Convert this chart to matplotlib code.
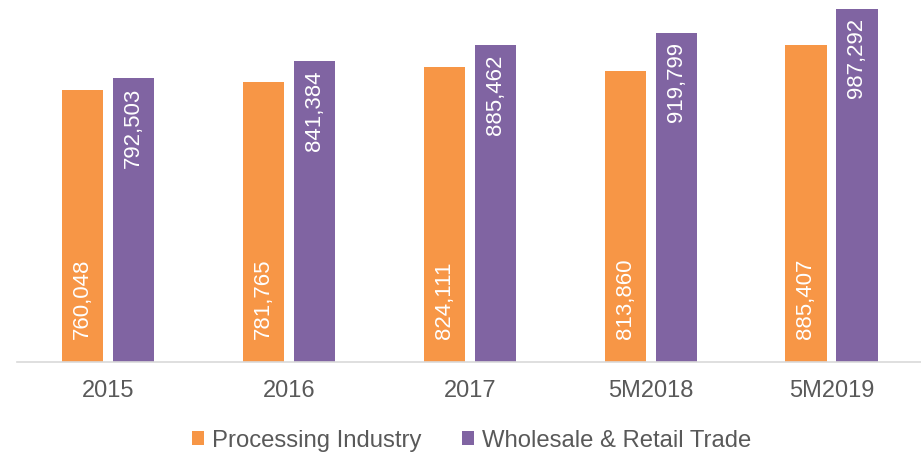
import numpy as np
import matplotlib.pyplot as plt

plt.rcParams['font.family'] = ['Liberation Sans', 'DejaVu Sans']

categories = ['2015', '2016', '2017', '5M2018', '5M2019']
processing = [760048, 781765, 824111, 813860, 885407]
wholesale = [792503, 841384, 885462, 919799, 987292]

orange = '#F79646'
purple = '#8064A2'
grey = '#595959'

fig = plt.figure(figsize=(9.21, 4.56), dpi=100)
ax = fig.add_axes([0.019, 0.204, 0.982, 0.785])

x = np.arange(len(categories))
w = 0.227
off = 0.141
b1 = ax.bar(x - off, processing, w, color=orange)
b2 = ax.bar(x + off, wholesale, w, color=purple)

# value labels, white, rotated inside the bars
for rect, v in zip(b1, processing):
    ax.text(rect.get_x() + rect.get_width() / 2, 66000, f'{v:,}', rotation=90,
            ha='center', va='bottom', color='white', fontsize=16)
for rect, v in zip(b2, wholesale):
    ax.text(rect.get_x() + rect.get_width() / 2, v - 24000, f'{v:,}', rotation=90,
            ha='center', va='top', color='white', fontsize=16)

ax.set_xlim(-0.5, len(categories) - 0.5)
ax.set_ylim(0, 1000000)
ax.set_xticks(x)
ax.set_xticklabels(categories, fontsize=17, color=grey)
ax.tick_params(axis='x', length=0, pad=12)
ax.set_yticks([])
for s in ['top', 'right', 'left']:
    ax.spines[s].set_visible(False)
ax.spines['bottom'].set_color('#D9D9D9')
ax.spines['bottom'].set_linewidth(1.2)

leg = fig.legend([b1, b2], ['Processing Industry', 'Wholesale & Retail Trade'],
                 loc='center', bbox_to_anchor=(0.512, 0.032), ncol=2, frameon=False,
                 fontsize=17.2, handlelength=0.5, handleheight=0.5,
                 handletextpad=0.35, columnspacing=1.7)
for t in leg.get_texts():
    t.set_color(grey)

fig.savefig('out.png', dpi=100)
